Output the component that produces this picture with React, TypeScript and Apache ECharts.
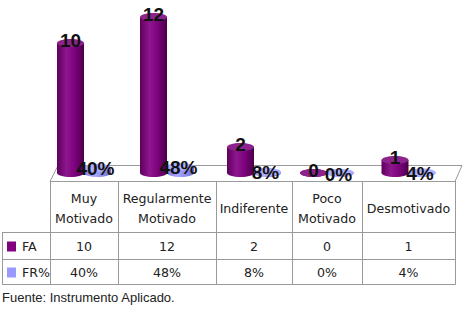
import React, { useEffect, useRef } from "react";
import * as echarts from "echarts";

// ---- data ----
const categories = ["Muy\nMotivado", "Regularmente\nMotivado", "Indiferente", "Poco\nMotivado", "Desmotivado"];
const faValues = [10, 12, 2, 0, 1];
const frPercent = [40, 48, 8, 0, 4];
const seriesNames = ["FA", "FR%"];
const sourceNote = "Fuente: Instrumento Aplicado.";

// ---- layout / style constants ----
const colEdges = [50, 118, 216, 292, 362, 455];
const GRID_TOP = 4;
const GRID_H = 169; // zero line at y = 173
const Y_MAX = 13;
const BAR_W = 27;
const TABLE_TOP = 181;
const ROW1 = 232;
const ROW2 = 259;
const ROW3 = 284;
const LINE = "#9a9a9a";
const TXT = "#222";
const TABLE_FONT = '"DejaVu Sans", Verdana, sans-serif';
const FA_COLOR = "#800080";
const FR_COLOR = "#9999ff";

function cylinder(x: number, w: number, yTop: number, yBase: number, kind: "fa" | "fr") {
  const ry = 4;
  const body =
    kind === "fa"
      ? new echarts.graphic.LinearGradient(0, 0, 1, 0, [
          { offset: 0, color: "#5e005e" },
          { offset: 0.35, color: "#8e168e" },
          { offset: 0.7, color: "#780078" },
          { offset: 1, color: "#480048" },
        ])
      : new echarts.graphic.LinearGradient(0, 0, 1, 0, [
          { offset: 0, color: "#7d7de0" },
          { offset: 0.4, color: "#a8a8ff" },
          { offset: 1, color: "#6f6fcf" },
        ]);
  const topFill = kind === "fa" ? "#8d248d" : "#aeb0ff";
  return [
    { type: "ellipse", shape: { cx: x + w / 2, cy: yBase, rx: w / 2, ry }, style: { fill: body } },
    { type: "rect", shape: { x, y: yTop, width: w, height: Math.max(0, yBase - yTop) }, style: { fill: body } },
    { type: "ellipse", shape: { cx: x + w / 2, cy: yTop, rx: w / 2, ry }, style: { fill: topFill } },
  ];
}

export default function App() {
  const ref = useRef<HTMLDivElement>(null);

  useEffect(() => {
    if (!ref.current) return;
    const chart = echarts.init(ref.current, null, { renderer: "svg" });

    const grids = categories.map((_, i) => ({
      left: colEdges[i],
      width: colEdges[i + 1] - colEdges[i],
      top: GRID_TOP,
      height: GRID_H,
    }));

    const xAxes = categories.map((c, i) => ({
      type: "category",
      gridIndex: i,
      data: [c],
      axisLine: { show: false },
      axisTick: { show: false },
      splitLine: { show: false },
      axisLabel: {
        show: true,
        margin: 35,
        verticalAlign: "middle",
        lineHeight: 20,
        fontSize: 12.6,
        fontFamily: TABLE_FONT,
        color: TXT,
        interval: 0,
      },
    }));

    const yAxes = categories.map((_, i) => ({
      type: "value",
      gridIndex: i,
      min: 0,
      max: Y_MAX,
      show: false,
    }));

    const series = categories.map((_, i) => ({
      type: "custom",
      xAxisIndex: i,
      yAxisIndex: i,
      data: [[0, faValues[i], frPercent[i] / 100]],
      renderItem: (params: any, api: any) => {
        const base = api.coord([0, 0]);
        const cx = base[0];
        const y0 = base[1];
        const fa = api.value(1);
        const fr = api.value(2);
        const yFA = api.coord([0, fa])[1];
        const yFR = api.coord([0, fr])[1];
        const xFA = cx - BAR_W;
        const xFR = cx;
        const labelStyle = {
          fontFamily: '"Liberation Sans", Arial, sans-serif',
          fontWeight: "bold",
          fontSize: 19,
          fill: "#111",
          align: "center",
          verticalAlign: "middle",
        };
        return {
          type: "group",
          children: [
            ...cylinder(xFA, BAR_W, yFA, y0, "fa"),
            ...cylinder(xFR, BAR_W, yFR, y0, "fr"),
            { type: "text", x: xFA + BAR_W / 2, y: yFA - 3, style: { ...labelStyle, text: String(fa) } },
            {
              type: "text",
              x: xFR + BAR_W / 2 - 2,
              y: yFR + 1,
              style: { ...labelStyle, text: Math.round(fr * 100) + "%" },
            },
          ],
        };
      },
    }));

    const g: any[] = [];
    // floor
    g.push({
      type: "polygon",
      z: -1,
      shape: { points: [[58, 165.5], [462, 165.5], [455, TABLE_TOP + 0.5], [50, TABLE_TOP + 0.5]] },
      style: { fill: "#fff", stroke: LINE, lineWidth: 1 },
    });
    // table lines
    colEdges.forEach((x) => {
      g.push({ type: "line", shape: { x1: x + 0.5, y1: TABLE_TOP, x2: x + 0.5, y2: ROW3 + 0.5 }, style: { stroke: LINE, lineWidth: 1 } });
    });
    g.push({ type: "line", shape: { x1: 2.5, y1: ROW1, x2: 2.5, y2: ROW3 + 0.5 }, style: { stroke: LINE, lineWidth: 1 } });
    [ROW1, ROW2, ROW3].forEach((y) => {
      g.push({ type: "line", shape: { x1: 2, y1: y + 0.5, x2: 455.5, y2: y + 0.5 }, style: { stroke: LINE, lineWidth: 1 } });
    });
    // legend cells
    const rowMid = [(ROW1 + ROW2) / 2 + 1, (ROW2 + ROW3) / 2 + 1];
    [FA_COLOR, FR_COLOR].forEach((col, r) => {
      g.push({ type: "rect", shape: { x: 7, y: rowMid[r] - 5, width: 9, height: 10 }, style: { fill: col } });
      g.push({
        type: "text",
        x: 22,
        y: rowMid[r],
        style: { text: seriesNames[r], fill: TXT, fontSize: 12.6, fontFamily: TABLE_FONT, align: "left", verticalAlign: "middle" },
      });
    });
    // value cells
    categories.forEach((_, i) => {
      const cx = (colEdges[i] + colEdges[i + 1]) / 2;
      g.push({
        type: "text",
        x: cx,
        y: rowMid[0],
        style: { text: String(faValues[i]), fill: TXT, fontSize: 12.6, fontFamily: TABLE_FONT, align: "center", verticalAlign: "middle" },
      });
      g.push({
        type: "text",
        x: cx,
        y: rowMid[1],
        style: { text: frPercent[i] + "%", fill: TXT, fontSize: 12.6, fontFamily: TABLE_FONT, align: "center", verticalAlign: "middle" },
      });
    });
    // source note
    g.push({
      type: "text",
      x: 2,
      y: 297,
      style: { text: sourceNote, fill: TXT, fontSize: 13, fontFamily: '"Liberation Sans", Arial, sans-serif', align: "left", verticalAlign: "middle" },
    });

    chart.setOption({
      animation: false,
      backgroundColor: "#ffffff",
      grid: grids,
      xAxis: xAxes,
      yAxis: yAxes,
      series,
      graphic: g,
    } as any);

    return () => chart.dispose();
  }, []);

  return (
    <div
      ref={ref}
      style={{ position: "absolute", left: 0, top: 0, width: 466, height: 310, background: "#fff" }}
    />
  );
}
